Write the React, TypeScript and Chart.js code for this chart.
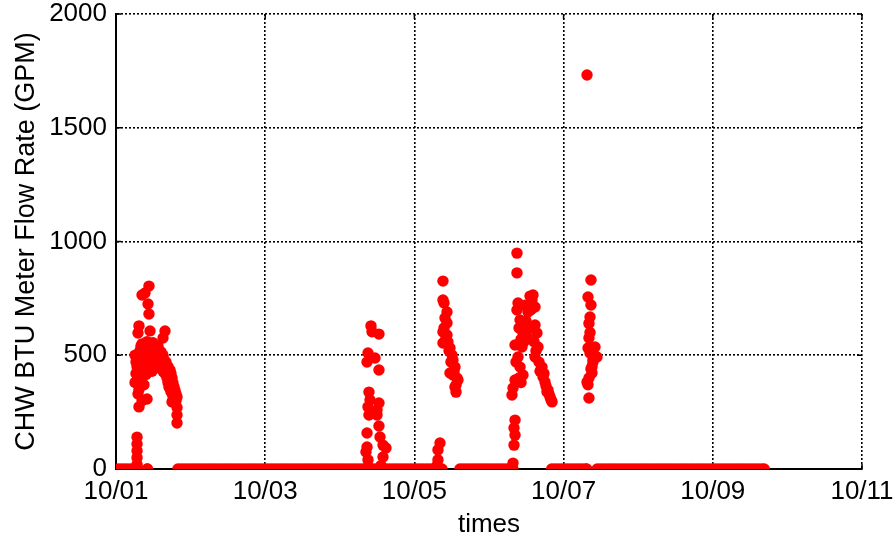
import React, { useEffect, useRef } from "react";
import { Chart, registerables } from "chart.js";

Chart.register(...registerables);

// Time in days after 10/01 00:00, value in GPM
const xTickLabels = ["10/01", "10/02", "10/03", "10/04", "10/05", "10/06", "10/07", "10/08", "10/09", "10/10", "10/11"];
const yTicks = [0, 500, 1000, 1500, 2000];

// Runs of zero flow: [start day, end day]
const zeroRuns: [number, number][] = [
  [0.03, 0.27],
  [0.42, 0.42],
  [0.83, 4.37],
  [4.61, 5.32],
  [5.84, 6.31],
  [6.45, 8.69],
];
const sampleStepDays = 1 / 24;

const burst1: [number, number][] = [
  [0.282, 140], [0.282, 110], [0.282, 80], [0.282, 50], [0.282, 20], [0.295, 0],
  [0.442, 804], [0.389, 774], [0.349, 765], [0.429, 725], [0.442, 681], [0.308, 629],
  [0.295, 598], [0.456, 607], [0.657, 607], [0.630, 576],
  [0.295, 500], [0.322, 520], [0.335, 480], [0.349, 550], [0.362, 460], [0.375, 510],
  [0.389, 530], [0.402, 490], [0.416, 560], [0.429, 470], [0.442, 540], [0.456, 500],
  [0.469, 520], [0.483, 480], [0.496, 555], [0.509, 510], [0.523, 495], [0.536, 530],
  [0.550, 470], [0.563, 540], [0.576, 505], [0.590, 490], [0.603, 515], [0.617, 470],
  [0.630, 500], [0.643, 480], [0.657, 455], [0.308, 440], [0.322, 410], [0.335, 390],
  [0.362, 430], [0.402, 415], [0.375, 370], [0.308, 350],
  [0.295, 330], [0.308, 273], [0.416, 308], [0.349, 300],
  [0.670, 470], [0.697, 450], [0.724, 435], [0.737, 420], [0.751, 400], [0.764, 378],
  [0.777, 360], [0.791, 345], [0.804, 330], [0.818, 316], [0.804, 300], [0.751, 295],
  [0.818, 270], [0.818, 237], [0.818, 202],
  [0.255, 500], [0.268, 470], [0.268, 420], [0.255, 380], [0.282, 390], [0.282, 450],
  [0.295, 420], [0.322, 460], [0.335, 540], [0.362, 520], [0.389, 470], [0.416, 450],
  [0.456, 450], [0.483, 430], [0.510, 460], [0.536, 450], [0.576, 460], [0.603, 440],
  [0.630, 430], [0.657, 420], [0.684, 400], [0.697, 380], [0.710, 360], [0.737, 340],
  [0.764, 320],
];

const burst2: [number, number][] = [
  [3.418, 629], [3.432, 603], [3.525, 593], [3.378, 510], [3.472, 488], [3.365, 470],
  [3.525, 435], [3.391, 338], [3.405, 303], [3.525, 290], [3.378, 273], [3.499, 259],
  [3.391, 237], [3.499, 237], [3.525, 189], [3.365, 158], [3.539, 141], [3.579, 105],
  [3.365, 97], [3.579, 53], [3.378, 40], [3.351, 75], [3.619, 92], [3.378, 10], [3.552, 15],
];

const burst3: [number, number][] = [
  [4.383, 826], [4.383, 743], [4.397, 730], [4.437, 690], [4.410, 664], [4.437, 642],
  [4.383, 602], [4.437, 589], [4.383, 554], [4.450, 558], [4.477, 532], [4.504, 501],
  [4.517, 479], [4.477, 422], [4.544, 448], [4.584, 391], [4.558, 369], [4.558, 338],
  [4.517, 413], [4.343, 114], [4.316, 84], [4.316, 40], [4.303, 15], [4.397, 620],
  [4.424, 575], [4.464, 520], [4.490, 470], [4.531, 430], [4.571, 400], [4.544, 360],
];

const burst4: [number, number][] = [
  [5.375, 949], [5.375, 862], [5.590, 765], [5.389, 730], [5.576, 743], [5.375, 699],
  [5.617, 712], [5.523, 690], [5.416, 655], [5.617, 633], [5.456, 598], [5.643, 598],
  [5.509, 580], [5.349, 545], [5.442, 536], [5.657, 536], [5.389, 492], [5.617, 492],
  [5.416, 448], [5.710, 448], [5.456, 413], [5.724, 404], [5.349, 391], [5.751, 382],
  [5.322, 356], [5.791, 347], [5.308, 325], [5.818, 316], [5.845, 295], [5.349, 215],
  [5.335, 180], [5.349, 149], [5.335, 105], [5.322, 26],
  [5.483, 720], [5.550, 760], [5.563, 700], [5.496, 650], [5.536, 620], [5.402, 620],
  [5.429, 570], [5.469, 560], [5.603, 560], [5.630, 520], [5.670, 470], [5.684, 430],
  [5.737, 420], [5.764, 365], [5.777, 340], [5.804, 330], [5.831, 305], [5.362, 470],
  [5.402, 400], [5.429, 380],
];

const burst5: [number, number][] = [
  [6.314, 1732], [6.367, 831], [6.327, 756], [6.367, 721], [6.354, 668], [6.340, 576],
  [6.421, 536], [6.327, 532], [6.448, 492], [6.394, 470], [6.381, 422], [6.314, 382],
  [6.340, 312], [6.354, 510], [6.408, 500], [6.381, 450], [6.340, 400], [6.367, 440],
  [6.394, 480], [6.327, 370], [6.354, 600], [6.340, 640],
];

function buildPoints() {
  const pts: { x: number; y: number }[] = [];
  for (const [a, b] of zeroRuns) {
    for (let t = a; t <= b + 1e-9; t += sampleStepDays) pts.push({ x: t, y: 0 });
    pts.push({ x: b, y: 0 });
  }
  for (const burst of [burst1, burst2, burst3, burst4, burst5]) {
    for (const [x, y] of burst) pts.push({ x, y });
  }
  return pts;
}

const innerTicks = {
  id: "innerTicks",
  beforeDatasetsDraw(c: any) {
    const { ctx, chartArea, scales } = c;
    ctx.save();
    ctx.strokeStyle = "#000";
    ctx.lineWidth = 1.5;
    ctx.beginPath();
    for (let i = 0; i < xTickLabels.length; i += 2) {
      const px = scales.x.getPixelForValue(i);
      ctx.moveTo(px, chartArea.bottom);
      ctx.lineTo(px, chartArea.bottom - 5);
      ctx.moveTo(px, chartArea.top);
      ctx.lineTo(px, chartArea.top + 5);
    }
    for (const v of yTicks) {
      const py = scales.y.getPixelForValue(v);
      ctx.moveTo(chartArea.left, py);
      ctx.lineTo(chartArea.left + 5, py);
      ctx.moveTo(chartArea.right, py);
      ctx.lineTo(chartArea.right - 5, py);
    }
    ctx.stroke();
    ctx.restore();
  },
};

export default function App() {
  const ref = useRef<HTMLCanvasElement | null>(null);
  useEffect(() => {
    if (!ref.current) return;
    const font = "'Liberation Sans', Arial, sans-serif";
    const chart = new Chart(ref.current, {
      type: "scatter",
      data: {
        datasets: [
          {
            data: buildPoints(),
            backgroundColor: "#ff0000",
            borderWidth: 0,
            pointRadius: 5.7,
            pointHoverRadius: 5.7,
          },
        ],
      },
      options: {
        responsive: false,
        animation: false,
        events: [],
        layout: { padding: { left: 0, right: 33, top: 14, bottom: 0 } },
        plugins: { legend: { display: false }, tooltip: { enabled: false } },
        scales: {
          x: {
            type: "linear",
            min: 0,
            max: 10,
            afterFit: (s: any) => {
              s.height = 75;
              s.paddingLeft = 0;
              s.paddingRight = 0;
            },
            ticks: {
              stepSize: 2,
              autoSkip: false,
              maxRotation: 0,
              padding: 7,
              color: "#000",
              font: { family: font, size: 26 },
              callback: (v: any) => xTickLabels[Math.round(Number(v))] ?? "",
            },
            grid: { color: "#000", lineWidth: 1.6, drawTicks: false },
            border: { display: true, color: "#000", width: 2, dash: [2, 2] },
            title: { display: true, text: "times", color: "#000", font: { family: font, size: 26 }, padding: { top: 0, bottom: 4 } },
          },
          y: {
            type: "linear",
            min: 0,
            max: 2000,
            afterFit: (s: any) => {
              s.width = 116;
              s.paddingTop = 0;
              s.paddingBottom = 0;
            },
            afterBuildTicks: (s: any) => { s.ticks = yTicks.map((v) => ({ value: v })); },
            ticks: {
              padding: 9,
              color: "#000",
              font: { family: font, size: 26 },
              callback: (v: any) => String(v),
            },
            grid: { color: "#000", lineWidth: 1.6, drawTicks: false },
            border: { display: true, color: "#000", width: 2, dash: [2, 2] },
            title: { display: true, text: "CHW BTU Meter Flow Rate (GPM)", color: "#000", font: { family: font, size: 27 }, padding: { top: 10, bottom: 0 } },
          },
        },
      },
      plugins: [innerTicks],
    } as any);
    return () => chart.destroy();
  }, []);
  return (
    <div style={{ position: "absolute", left: 0, top: 0, width: 895, height: 544, background: "#fff" }}>
      <canvas ref={ref} width={895} height={544} style={{ display: "block" }} />
    </div>
  );
}
